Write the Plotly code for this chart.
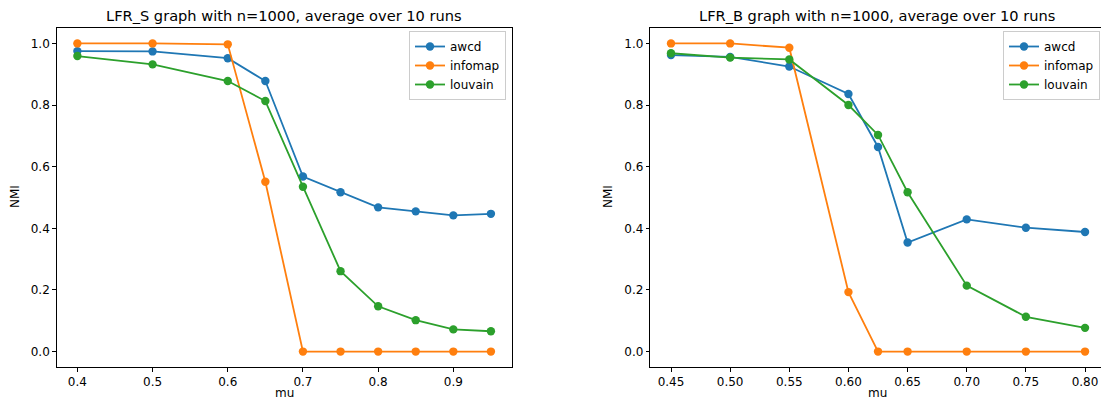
import plotly.graph_objects as go

# ---- data ----
mu_s = [0.4, 0.5, 0.6, 0.65, 0.7, 0.75, 0.8, 0.85, 0.9, 0.95]
awcd_s = [0.975, 0.974, 0.952, 0.878, 0.568, 0.517, 0.468, 0.455, 0.442, 0.447]
infomap_s = [1.0, 1.0, 0.997, 0.551, 0.0, 0.0, 0.0, 0.0, 0.0, 0.0]
louvain_s = [0.959, 0.932, 0.878, 0.813, 0.535, 0.261, 0.147, 0.102, 0.072, 0.066]

mu_b = [0.45, 0.5, 0.55, 0.6, 0.625, 0.65, 0.7, 0.75, 0.8]
awcd_b = [0.962, 0.956, 0.925, 0.836, 0.664, 0.354, 0.429, 0.402, 0.388]
infomap_b = [1.0, 1.0, 0.986, 0.193, 0.0, 0.0, 0.0, 0.0, 0.0]
louvain_b = [0.968, 0.954, 0.948, 0.800, 0.703, 0.517, 0.214, 0.113, 0.077]

series_names = ["awcd", "infomap", "louvain"]
colors = ["#1f77b4", "#ff7f0e", "#2ca02c"]

title_s = "LFR_S graph with n=1000, average over 10 runs"
title_b = "LFR_B graph with n=1000, average over 10 runs"
xlabel = "mu"
ylabel = "NMI"

x_ticks_s = [0.4, 0.5, 0.6, 0.7, 0.8, 0.9]
x_ticks_b = [0.45, 0.5, 0.55, 0.6, 0.65, 0.7, 0.75, 0.8]
y_ticks = [0.0, 0.2, 0.4, 0.6, 0.8, 1.0]

FONT = "DejaVu Sans"
FS = 12
TFS = 14.6
W, H = 1101, 402
T, B = 28, 35
PH = H - T - B


def py(p):
    """screen pixel y -> paper y"""
    return (H - B - p) / PH


def px(p):
    """screen pixel x -> paper x"""
    return p / W


fig = go.Figure()

for name, col, ys in zip(series_names, colors, [awcd_s, infomap_s, louvain_s]):
    fig.add_trace(go.Scatter(x=mu_s, y=ys, name=name, mode="lines+markers",
                             line=dict(color=col, width=1.8),
                             marker=dict(color=col, size=8.4),
                             xaxis="x", yaxis="y", legend="legend"))
for name, col, ys in zip(series_names, colors, [awcd_b, infomap_b, louvain_b]):
    fig.add_trace(go.Scatter(x=mu_b, y=ys, name=name, mode="lines+markers",
                             line=dict(color=col, width=1.8),
                             marker=dict(color=col, size=8.4),
                             xaxis="x2", yaxis="y2", legend="legend2"))

axis_common = dict(showgrid=False, zeroline=False, showline=True, linecolor="black",
                   linewidth=1, ticks="outside", ticklen=3.5, tickcolor="black",
                   tickfont=dict(family=FONT, size=FS, color="black"))

fig.update_layout(
    width=W, height=H,
    margin=dict(l=0, r=0, t=T, b=B),
    paper_bgcolor="white", plot_bgcolor="white",
    font=dict(family=FONT, size=FS, color="black"),
    xaxis=dict(domain=[px(56.7), px(511.6)], range=[0.3725, 0.9775],
               tickvals=x_ticks_s, tickformat=".1f", mirror=True, anchor="y", **axis_common),
    yaxis=dict(domain=[0, 1], range=[-0.05, 1.05], tickvals=y_ticks, tickformat=".1f",
               mirror=True, anchor="x", **axis_common),
    xaxis2=dict(domain=[px(650.3), 1.0], range=[0.4325, 0.8135],
                tickvals=x_ticks_b, tickformat=".2f", mirror=True, anchor="y2", **axis_common),
    yaxis2=dict(domain=[0, 1], range=[-0.05, 1.05], tickvals=y_ticks, tickformat=".1f",
                mirror=False, anchor="x2", **axis_common),
    legend=dict(x=px(506), y=py(31), xanchor="right", yanchor="top",
                bgcolor="rgba(255,255,255,0.8)", bordercolor="#cccccc", borderwidth=1,
                font=dict(family=FONT, size=FS, color="black"), tracegroupgap=0),
    legend2=dict(x=px(1100), y=py(31), xanchor="right", yanchor="top",
                 bgcolor="rgba(255,255,255,0.8)", bordercolor="#cccccc", borderwidth=1,
                 font=dict(family=FONT, size=FS, color="black"), tracegroupgap=0),
    showlegend=True,
)

annos = [
    dict(text=title_s, x=px(284), y=py(15), size=TFS, angle=0, ya="middle"),
    dict(text=title_b, x=px(877), y=py(15), size=TFS, angle=0, ya="middle"),
    dict(text=ylabel, x=px(15), y=py(197), size=FS, angle=-90, ya="middle"),
    dict(text=ylabel, x=px(608), y=py(197), size=FS, angle=-90, ya="middle"),
    dict(text=xlabel, x=px(284), y=py(401.5), size=FS, angle=0, ya="bottom"),
    dict(text=xlabel, x=px(877), y=py(401.5), size=FS, angle=0, ya="bottom"),
]
for a in annos:
    fig.add_annotation(text=a["text"], x=a["x"], y=a["y"], xref="paper", yref="paper",
                       xanchor="center", yanchor=a["ya"], showarrow=False,
                       textangle=a["angle"],
                       font=dict(family=FONT, size=a["size"], color="black"))

fig.write_html(
    "out.html",
    config={"displayModeBar": False},
    post_script="document.body.style.margin='0';document.body.style.overflow='hidden';",
)
